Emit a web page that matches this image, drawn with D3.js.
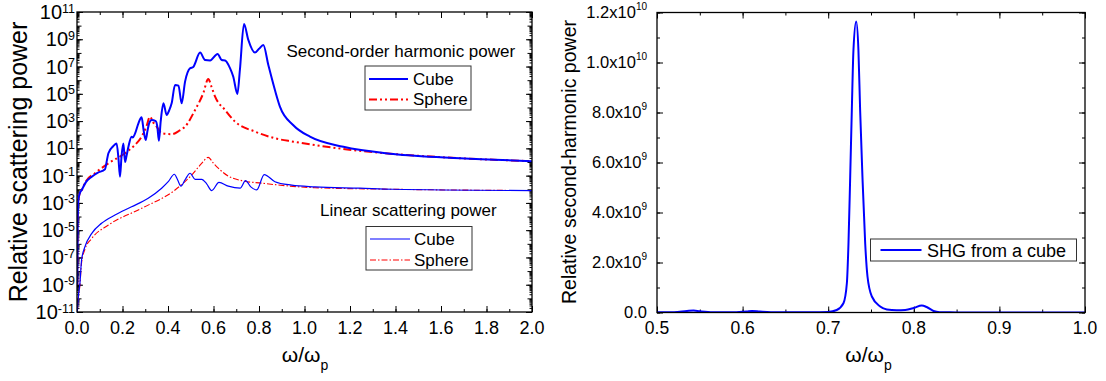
<!DOCTYPE html>
<html lang="en">
<head>
    <meta charset="UTF-8">
    <title>SHG scattering</title>
    <style>
        body { margin: 0; background: #fff; }
        svg text { font-family: "Liberation Sans", Arial, sans-serif; fill: #000; }
    </style>
    <script src="https://d3js.org/d3.v7.min.js"></script>
</head>
<body>
<div id="chart"></div>
<script>
    // ---- data ----
    // left panel: [omega/omega_p, relative power]
    const shgCube = [
        [0.0015, 1e-9], [0.003, 3e-5], [0.006, 1.5e-3], [0.012, 5e-3], [0.021, 9e-3], [0.04, 3.5e-2],
        [0.065, 8.3e-2], [0.09, 1.6e-1], [0.123, 2.9e-1], [0.132, 1.5], [0.138, 4.4], [0.16, 1.5e1],
        [0.174, 2.3e1], [0.182, 2], [0.189, 8.3e-2], [0.196, 3], [0.204, 2.3e1], [0.211, 1.0],
        [0.218, 3], [0.226, 1.3e1], [0.240, 7.2e1], [0.245, 6.3e1], [0.255, 1.2e2], [0.270, 6.9e2],
        [0.284, 1.9e3], [0.293, 2e2], [0.302, 4.1e1], [0.31, 2e2], [0.317, 6.9e2], [0.328, 1.2e3],
        [0.346, 1e3], [0.353, 4e2], [0.360, 3.6e1], [0.368, 1e3], [0.380, 2e4], [0.394, 2.8e3],
        [0.405, 6e3], [0.416, 2e4], [0.431, 4.5e5], [0.446, 4e5], [0.46, 2e4], [0.475, 7.8e5],
        [0.497, 7.4e6], [0.511, 9.3e6], [0.541, 1.05e8], [0.563, 3e7], [0.585, 2.8e7], [0.618, 8.3e7],
        [0.636, 3e7], [0.651, 2.8e7], [0.673, 7.4e6], [0.687, 1.8e6], [0.705, 9.8e4], [0.716, 5.6e6],
        [0.734, 1.3e10], [0.753, 9e8], [0.782, 1.05e8], [0.800, 2e8], [0.819, 3.8e8], [0.841, 1.3e7],
        [0.870, 1.9e5], [0.892, 1.15e4], [0.951, 5e2], [1.024, 7.2e1], [1.171, 1.3e1], [1.39, 3.9],
        [1.684, 1.9], [2.0, 1.15]
    ];
    const shgSphere = [
        [0.0015, 1e-9], [0.003, 3e-5], [0.006, 1.5e-3], [0.012, 5e-3], [0.021, 9e-3], [0.04, 4e-2],
        [0.079, 1.5e-1], [0.138, 8e-1], [0.211, 4.4], [0.25, 1.5e1], [0.284, 7.2e1], [0.305, 4e2],
        [0.321, 2.1e3], [0.335, 8e2], [0.35, 3.9e2], [0.372, 1.3e2], [0.416, 1.1e2], [0.45, 2e2],
        [0.475, 3.9e2], [0.519, 6.5e3], [0.555, 1.1e5], [0.577, 1.2e6], [0.592, 3e5], [0.607, 6.2e4],
        [0.651, 6.5e3], [0.695, 9e2], [0.782, 1.7e2], [0.870, 5.5e1], [0.951, 3.1e1], [1.097, 1.3e1],
        [1.39, 3.9], [1.684, 1.9], [2.0, 1.15]
    ];
    const linCube = [
        [0.0015, 1e-11], [0.006, 1.4e-10], [0.013, 1.3e-9], [0.02, 6.5e-8], [0.035, 6.2e-7],
        [0.065, 5.9e-6], [0.108, 3.2e-5], [0.167, 1.3e-4], [0.24, 5.2e-4], [0.313, 2.2e-3],
        [0.372, 1.2e-2], [0.401, 3.6e-2], [0.428, 1.26e-1], [0.442, 5e-2], [0.457, 1.7e-2],
        [0.475, 5e-2], [0.497, 1.5e-1], [0.519, 5.4e-2], [0.548, 5.4e-2], [0.57, 2.5e-2],
        [0.592, 8e-3], [0.624, 3.2e-2], [0.665, 1.7e-2], [0.717, 1.2e-2], [0.741, 4.3e-2],
        [0.764, 1.5e-2], [0.79, 8.9e-3], [0.823, 1.2e-1], [0.87, 3.6e-2], [0.944, 2e-2],
        [1.046, 1.5e-2], [1.244, 1.2e-2], [1.39, 1e-2], [2.0, 8e-3]
    ];
    const linSphere = [
        [0.0015, 1e-11], [0.006, 1e-10], [0.013, 1e-9], [0.02, 4e-8], [0.035, 4e-7], [0.065, 2.5e-6],
        [0.138, 2.4e-5], [0.284, 4e-4], [0.431, 8.9e-3], [0.504, 1.1e-1], [0.548, 7.9e-1],
        [0.577, 2.2], [0.600, 8e-1], [0.621, 3.5e-1], [0.665, 9.3e-2], [0.724, 4.3e-2],
        [0.812, 2.8e-2], [1.046, 1.3e-2], [1.39, 1e-2], [2.0, 8e-3]
    ];
    // right panel: SHG from a cube, linear scale
    const shgLinear = [
        [0.5, 5e6], [0.52, 1e7], [0.535, 6e7], [0.5427, 8e7], [0.55, 5e7], [0.565, 1e7], [0.59, 1e7],
        [0.605, 4e7], [0.611, 6e7], [0.62, 4e7], [0.64, 1e7], [0.68, 1e7], [0.70, 2e7], [0.71, 1e8],
        [0.7178, 3.7e8], [0.7218, 1.17e9], [0.7237, 2.77e9], [0.7257, 5.44e9], [0.7276, 8.1e9],
        [0.7295, 1.05e10], [0.7327, 1.164e10], [0.7353, 1.05e10], [0.7373, 8.1e9], [0.74, 5.44e9],
        [0.7432, 2.77e9], [0.7459, 1.44e9], [0.751, 6.4e8], [0.7607, 2.4e8], [0.7685, 1.2e8],
        [0.78, 9e7], [0.79, 1e8], [0.80, 1.8e8], [0.8093, 2.8e8], [0.815, 2.2e8], [0.823, 6e7],
        [0.83, 1e7], [0.85, 5e6], [1.0, 3e6]
    ];

    // tick labels
    const leftXTicks = [0, 0.2, 0.4, 0.6, 0.8, 1.0, 1.2, 1.4, 1.6, 1.8, 2.0];
    const leftYExps = [-11, -9, -7, -5, -3, -1, 1, 3, 5, 7, 9, 11];
    const rightXTicks = [0.5, 0.6, 0.7, 0.8, 0.9, 1.0];
    const rightYTicks = [0, 2e9, 4e9, 6e9, 8e9, 1e10, 1.2e10];

    const svg = d3.select("#chart").append("svg")
        .attr("width", 1106)
        .attr("height", 381);

    const lx = d3.scaleLinear().domain([0, 2]).range([77, 532]);
    const ly = d3.scaleLog().domain([1e-11, 1e11]).range([312, 12]);
    const rx = d3.scaleLinear().domain([0.5, 1]).range([657, 1085]);
    const ry = d3.scaleLinear().domain([0, 1.2e10]).range([312.5, 12.5]);

    function ticks(g, axis) {
        g.call(axis);
        g.select(".domain").remove();
        g.selectAll(".tick line").attr("stroke", "#000").attr("stroke-width", 1);
        g.selectAll(".tick text").remove();
    }

    // ---- left panel ----
    const left = svg.append("g");
    left.append("clipPath").attr("id", "clipL").append("rect")
        .attr("x", 77).attr("y", 12).attr("width", 455).attr("height", 300);

    const xMinor = d3.range(0, 2.0001, 0.1);
    ticks(left.append("g").attr("transform", "translate(0,312)"), d3.axisBottom(lx).tickValues(xMinor).tickSize(-3));
    ticks(left.append("g").attr("transform", "translate(0,312)"), d3.axisBottom(lx).tickValues(leftXTicks).tickSize(-6));
    ticks(left.append("g").attr("transform", "translate(0,12)"), d3.axisTop(lx).tickValues(xMinor).tickSize(-3));
    ticks(left.append("g").attr("transform", "translate(0,12)"), d3.axisTop(lx).tickValues(leftXTicks).tickSize(-6));

    const decades = d3.range(-11, 12).map(e => Math.pow(10, e));
    const logMinor = [];
    d3.range(-11, 11).forEach(e => d3.range(2, 10).forEach(m => logMinor.push(m * Math.pow(10, e))));
    [[d3.axisLeft, 77], [d3.axisRight, 532]].forEach(([ax, pos]) => {
        ticks(left.append("g").attr("transform", `translate(${pos},0)`), ax(ly).tickValues(logMinor).tickSize(-2.5));
        ticks(left.append("g").attr("transform", `translate(${pos},0)`), ax(ly).tickValues(decades).tickSize(-4.5));
        ticks(left.append("g").attr("transform", `translate(${pos},0)`), ax(ly).tickValues(leftYExps.map(e => Math.pow(10, e))).tickSize(-6));
    });

    left.append("g").selectAll("text").data(leftXTicks).join("text")
        .attr("x", d => lx(d)).attr("y", 334)
        .attr("text-anchor", "middle").attr("font-size", 18)
        .text(d => d.toFixed(1));

    const lyl = left.append("g").selectAll("text").data(leftYExps).join("text")
        .attr("x", 75).attr("y", d => ly(Math.pow(10, d)) + 7)
        .attr("text-anchor", "end");
    lyl.append("tspan").attr("font-size", 20).text("10");
    lyl.append("tspan").attr("font-size", 12.5).attr("dy", -6.5).text(d => d);

    const lineL = d3.line().x(d => lx(d[0])).y(d => ly(d[1])).curve(d3.curveMonotoneX);
    const curvesL = left.append("g").attr("clip-path", "url(#clipL)");
    curvesL.append("path").datum(linSphere).attr("d", lineL).attr("fill", "none")
        .attr("stroke", "#ff0000").attr("stroke-width", 1.1).attr("stroke-dasharray", "6,2,1.5,2");
    curvesL.append("path").datum(linCube).attr("d", lineL).attr("fill", "none")
        .attr("stroke", "#0000ff").attr("stroke-width", 1.2);
    curvesL.append("path").datum(shgSphere).attr("d", lineL).attr("fill", "none")
        .attr("stroke", "#ff0000").attr("stroke-width", 2).attr("stroke-dasharray", "8,3,2,3,2,3");
    curvesL.append("path").datum(shgCube).attr("d", lineL).attr("fill", "none")
        .attr("stroke", "#0000ff").attr("stroke-width", 2);

    left.append("rect").attr("x", 77).attr("y", 12).attr("width", 455).attr("height", 300)
        .attr("fill", "none").attr("stroke", "#000").attr("stroke-width", 1.3);

    // legends
    left.append("text").attr("x", 286.5).attr("y", 57).attr("font-size", 17).text("Second-order harmonic power");
    left.append("rect").attr("x", 365).attr("y", 66).attr("width", 106).attr("height", 44)
        .attr("fill", "#fff").attr("stroke", "#333").attr("stroke-width", 1);
    left.append("line").attr("x1", 369).attr("x2", 408).attr("y1", 79).attr("y2", 79)
        .attr("stroke", "#0000ff").attr("stroke-width", 2);
    left.append("line").attr("x1", 369).attr("x2", 408).attr("y1", 99.5).attr("y2", 99.5)
        .attr("stroke", "#ff0000").attr("stroke-width", 2).attr("stroke-dasharray", "8,3,2,3,2,3");
    left.append("text").attr("x", 413).attr("y", 84.5).attr("font-size", 17).text("Cube");
    left.append("text").attr("x", 413).attr("y", 105).attr("font-size", 17).text("Sphere");

    left.append("text").attr("x", 320).attr("y", 216).attr("font-size", 17).text("Linear scattering power");
    left.append("rect").attr("x", 366).attr("y", 226.5).attr("width", 106).attr("height", 43.5)
        .attr("fill", "#fff").attr("stroke", "#333").attr("stroke-width", 1);
    left.append("line").attr("x1", 370).attr("x2", 410).attr("y1", 239).attr("y2", 239)
        .attr("stroke", "#0000ff").attr("stroke-width", 1.2);
    left.append("line").attr("x1", 370).attr("x2", 410).attr("y1", 260).attr("y2", 260)
        .attr("stroke", "#ff0000").attr("stroke-width", 1.1).attr("stroke-dasharray", "6,2,1.5,2");
    left.append("text").attr("x", 414).attr("y", 244.5).attr("font-size", 17).text("Cube");
    left.append("text").attr("x", 414).attr("y", 266).attr("font-size", 17).text("Sphere");

    left.append("text").attr("transform", "translate(27,162) rotate(-90)")
        .attr("text-anchor", "middle").attr("font-size", 25).text("Relative scattering power");
    const lxt = left.append("text").attr("x", 305).attr("y", 361.5).attr("text-anchor", "middle");
    lxt.append("tspan").attr("font-size", 21).text("ω/ω");
    lxt.append("tspan").attr("font-size", 14).attr("dy", 8).text("p");

    // ---- right panel ----
    const right = svg.append("g");
    right.append("clipPath").attr("id", "clipR").append("rect")
        .attr("x", 657).attr("y", 12.5).attr("width", 428).attr("height", 300);

    const rxMinor = d3.range(0.5, 1.0001, 0.05);
    const ryMinor = d3.range(0, 1.2e10 + 1, 1e9);
    [[d3.axisBottom, 312.5], [d3.axisTop, 12.5]].forEach(([ax, pos]) => {
        ticks(right.append("g").attr("transform", `translate(0,${pos})`), ax(rx).tickValues(rxMinor).tickSize(-3));
        ticks(right.append("g").attr("transform", `translate(0,${pos})`), ax(rx).tickValues(rightXTicks).tickSize(-6));
    });
    [[d3.axisLeft, 657], [d3.axisRight, 1085]].forEach(([ax, pos]) => {
        ticks(right.append("g").attr("transform", `translate(${pos},0)`), ax(ry).tickValues(ryMinor).tickSize(-3));
        ticks(right.append("g").attr("transform", `translate(${pos},0)`), ax(ry).tickValues(rightYTicks).tickSize(-6));
    });

    right.append("g").selectAll("text").data(rightXTicks).join("text")
        .attr("x", d => rx(d)).attr("y", 333.5)
        .attr("text-anchor", "middle").attr("font-size", 17.5)
        .text(d => d.toFixed(1));

    const ryl = right.append("g").selectAll("text").data(rightYTicks).join("text")
        .attr("x", 647).attr("y", d => ry(d) + 5.5)
        .attr("text-anchor", "end");
    ryl.append("tspan").attr("font-size", 16.5).text(d => {
        if (d === 0) return "0.0";
        const e = Math.floor(Math.log10(d));
        return (d / Math.pow(10, e)).toFixed(1) + "x10";
    });
    ryl.filter(d => d !== 0).append("tspan").attr("font-size", 10).attr("dy", -8)
        .text(d => Math.floor(Math.log10(d)));

    const lineR = d3.line().x(d => rx(d[0])).y(d => ry(d[1])).curve(d3.curveMonotoneX);
    right.append("g").attr("clip-path", "url(#clipR)")
        .append("path").datum(shgLinear).attr("d", lineR).attr("fill", "none")
        .attr("stroke", "#0000ff").attr("stroke-width", 2);

    right.append("rect").attr("x", 657).attr("y", 12.5).attr("width", 428).attr("height", 300)
        .attr("fill", "none").attr("stroke", "#000").attr("stroke-width", 1.3);

    right.append("rect").attr("x", 870.5).attr("y", 239).attr("width", 206).attr("height", 22)
        .attr("fill", "#fff").attr("stroke", "#333").attr("stroke-width", 1);
    right.append("line").attr("x1", 880.5).attr("x2", 921.5).attr("y1", 250).attr("y2", 250)
        .attr("stroke", "#0000ff").attr("stroke-width", 2);
    right.append("text").attr("x", 927).attr("y", 256.5).attr("font-size", 18).text("SHG from a cube");

    right.append("text").attr("transform", "translate(575.5,162) rotate(-90)")
        .attr("text-anchor", "middle").attr("font-size", 19.5).text("Relative second-harmonic power");
    const rxt = right.append("text").attr("x", 868.5).attr("y", 361.5).attr("text-anchor", "middle");
    rxt.append("tspan").attr("font-size", 21).text("ω/ω");
    rxt.append("tspan").attr("font-size", 14).attr("dy", 8).text("p");
</script>
</body>
</html>
